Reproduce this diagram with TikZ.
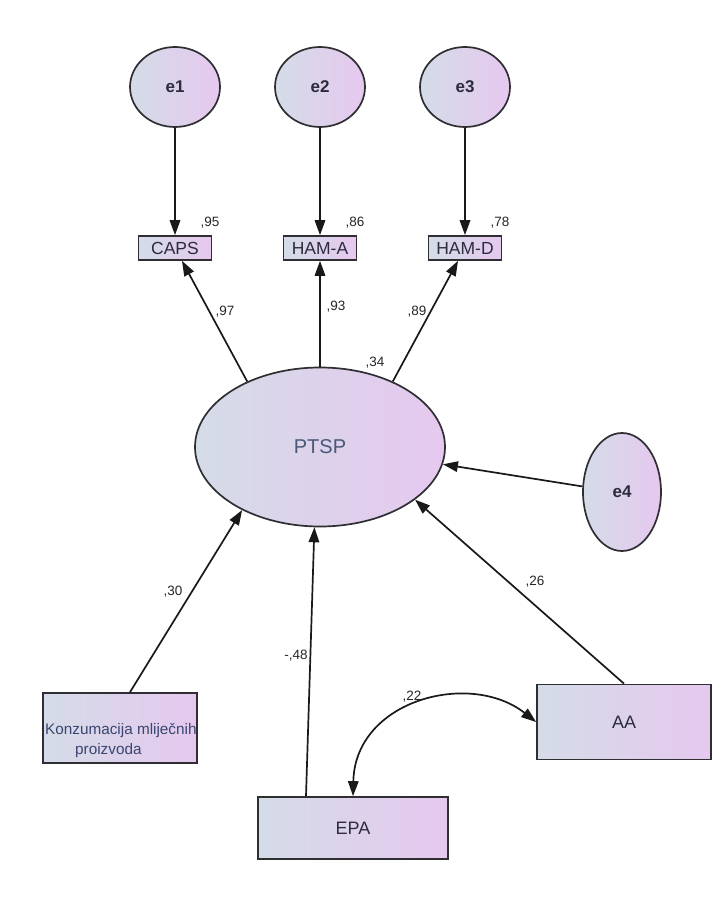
\documentclass[tikz,border=0pt]{standalone}
\usepackage{fontspec}
\setmainfont{Liberation Sans}
\usetikzlibrary{shapes.geometric,arrows.meta}
\definecolor{fillL}{HTML}{D4DCE7}
\definecolor{fillR}{HTML}{E6C8EF}
\definecolor{edge}{HTML}{2E2E33}
\definecolor{txt}{HTML}{2C2C3C}
\definecolor{ptsptxt}{HTML}{4A5878}
\definecolor{kztxt}{HTML}{3A4670}
\tikzset{
  grad/.style={draw=edge, line width=1.7pt, left color=fillL, right color=fillR, inner sep=0pt},
  errnode/.style={grad, ellipse, minimum width=90pt, minimum height=80pt, text=txt, font=\fontsize{17}{19}\selectfont\bfseries},
  indbox/.style={grad, rectangle, minimum width=73pt, minimum height=24pt, text=txt, font=\fontsize{17.5}{19}\selectfont},
  bigbox/.style={grad, rectangle, text=txt, font=\fontsize{18}{20}\selectfont},
  kzlabel/.style={inner sep=0pt, anchor=base west, text=kztxt, font=\fontsize{15.3}{18}\selectfont},
  coef/.style={inner sep=0pt, font=\fontsize{13.5}{15}\selectfont, text=black!85},
  path/.style={draw=black!90, line width=1.7pt, -{Triangle[length=15pt,width=10.5pt]}},
  cov/.style={draw=black!90, line width=1.7pt, {Triangle[length=15pt,width=10.5pt]}-{Triangle[length=15pt,width=10.5pt]}}
}
\begin{document}
\begin{tikzpicture}[x=1pt,y=-1pt]
\useasboundingbox (0,0) rectangle (722,904);
% error terms
\node[errnode] (e1) at (175,87) {e1};
\node[errnode] (e2) at (320,87) {e2};
\node[errnode] (e3) at (465,87) {e3};
% indicators
\node[indbox] (caps) at (175,248) {CAPS};
\node[indbox] (hama) at (320,248) {HAM-A};
\node[indbox] (hamd) at (465,248) {HAM-D};
% latent
\node[grad, ellipse, minimum width=250pt, minimum height=159pt, text=ptsptxt, font=\fontsize{20}{22}\selectfont] (ptsp) at (320,447) {PTSP};
\node[errnode, minimum width=78pt, minimum height=118pt] (e4) at (622,492) {e4};
% exogenous
\node[bigbox, minimum width=154pt, minimum height=70pt] (kz) at (120,728) {};
\node[kzlabel] (kz1) at (45,734) {Konzumacija mliječnih};
\node[kzlabel] (kz2) at (75,754) {proizvoda};
\node[bigbox, minimum width=174pt, minimum height=75pt] (aa) at (624,722) {AA};
\node[bigbox, minimum width=190pt, minimum height=62pt] (epa) at (353,828) {EPA};
% error arrows
\draw[path] (e1) -- (caps);
\draw[path] (e2) -- (hama);
\draw[path] (e3) -- (hamd);
\draw[path] (e4.172) -- (ptsp.-8);
% loadings
\draw[path] (ptsp.138) -- ([xshift=7pt]caps.south);
\draw[path] (ptsp.90) -- (hama.south);
\draw[path] (ptsp.42) -- ([xshift=-7pt]hamd.south);
% structural paths
\draw[path] ([xshift=10pt]kz.north) -- (ptsp.219);
\draw[path] ([xshift=-47pt]epa.north) -- (ptsp.266);
\draw[path] (aa.north) -- (ptsp.-29);
% covariance
\draw[cov] (epa.north) .. controls (355,700) and (470,670) .. (aa.west);
% coefficients
\node[coef] (r95) at (210,223) {,95};
\node[coef] (r86) at (355,223) {,86};
\node[coef] (r78) at (500,223) {,78};
\node[coef] (l97) at (225,312) {,97};
\node[coef] (l93) at (336,307) {,93};
\node[coef] (l89) at (417,312) {,89};
\node[coef] (r34) at (375,363) {,34};
\node[coef] (l30) at (173,592) {,30};
\node[coef] (l48) at (296,656) {-,48};
\node[coef] (l26) at (535,582) {,26};
\node[coef] (c22) at (412,697) {,22};
\end{tikzpicture}
\end{document}
